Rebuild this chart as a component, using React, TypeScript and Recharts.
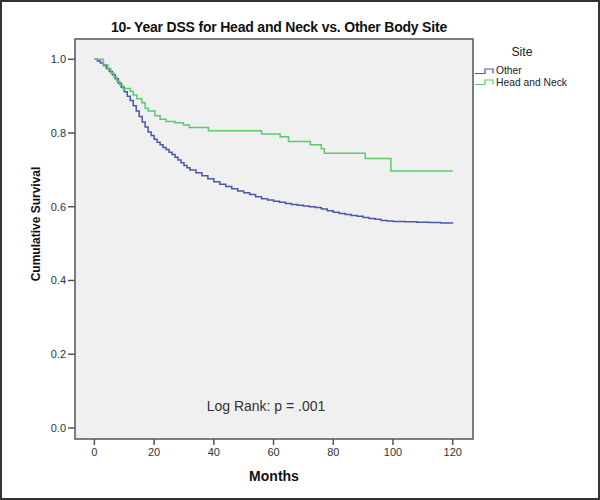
import { CSSProperties } from 'react'
import { Line, LineChart, ReferenceArea, XAxis, YAxis } from 'recharts'

const monthTicks = [0, 20, 40, 60, 80, 100, 120]
const survivalTicks = [0, 0.2, 0.4, 0.6, 0.8, 1.0]

// Site = Other
const otherMonths = [
  0, 1, 2, 3, 4, 5, 6, 7, 8, 9, 10, 11, 12, 13, 14, 15, 16, 17, 18, 19, 20, 21, 22, 23, 24, 25, 26,
  27, 28, 29, 30, 31, 32, 34, 36, 38, 40, 42, 44, 46, 48, 50, 52, 54, 56, 58, 60, 62, 64, 66, 68,
  70, 72, 74, 76, 78, 80, 82, 84, 86, 88, 90, 92, 94, 96, 98, 100, 104, 108, 112, 116, 120,
]
const otherSurvival = [
  1.0, 0.995, 0.99, 0.983, 0.975, 0.967, 0.958, 0.947, 0.935, 0.924, 0.912, 0.9, 0.888, 0.874, 0.86,
  0.845, 0.83, 0.816, 0.803, 0.793, 0.783, 0.775, 0.768, 0.761, 0.755, 0.748, 0.742, 0.734, 0.727,
  0.719, 0.712, 0.706, 0.7, 0.692, 0.684, 0.676, 0.668, 0.661, 0.655, 0.649, 0.643, 0.638, 0.633,
  0.627, 0.622, 0.618, 0.615, 0.612, 0.609, 0.606, 0.604, 0.602, 0.6, 0.598, 0.594, 0.589, 0.585,
  0.582, 0.579, 0.576, 0.574, 0.571, 0.568, 0.566, 0.563, 0.561, 0.56, 0.559, 0.558, 0.557, 0.556,
  0.555,
]

// Site = Head and Neck
const headNeckMonths = [
  0, 3, 4.5, 5.5, 6.5, 7.5, 8.5, 9.5, 12, 13, 14.2, 15.9, 17, 18, 20.3, 22, 24, 27, 29.8, 31.8,
  38.2, 56, 62.2, 65, 72.3, 76, 77, 90.7, 99.3, 120,
]
const headNeckSurvival = [
  1.0, 0.985, 0.975, 0.963, 0.952, 0.94, 0.93, 0.921, 0.913, 0.903, 0.893, 0.882, 0.867, 0.86,
  0.847, 0.837, 0.831, 0.828, 0.822, 0.815, 0.806, 0.797, 0.79, 0.777, 0.768, 0.757, 0.745, 0.731,
  0.697, 0.697,
]

const sites = [
  { name: 'Other', color: '#4b57a8' },
  { name: 'Head and Neck', color: '#5cc96c' },
]

const otherData = otherMonths.map((m, i) => ({ month: m, survival: otherSurvival[i] }))
const headNeckData = headNeckMonths.map((m, i) => ({ month: m, survival: headNeckSurvival[i] }))

const FONT = '"Liberation Sans", Arial, sans-serif'
const TICK_STYLE = { fontSize: 11, fill: '#333', fontFamily: FONT }

const abs = (s: CSSProperties): CSSProperties => ({ position: 'absolute', fontFamily: FONT, ...s })

function SiteLegend() {
  return (
    <div style={abs({ left: 475, top: 45, color: '#222', width: 120 })}>
      <div style={{ fontSize: 12.2, textAlign: 'center', width: 94, lineHeight: '14px' }}>Site</div>
      <div style={{ height: 6 }} />
      {sites.map((s) => (
        <div key={s.name} style={{ display: 'flex', alignItems: 'center', height: 11.6 }}>
          <svg width={21} height={8} style={{ display: 'block' }}>
            <path d="M0,6.5 H10 V2 H18 V6.5" fill="none" stroke={s.color} strokeWidth={1.2} />
          </svg>
          <span style={{ fontSize: 10.3, lineHeight: '11px' }}>{s.name}</span>
        </div>
      ))}
    </div>
  )
}

export default function App() {
  return (
    <div style={{ position: 'absolute', left: 0, top: 0, width: 600, height: 500, background: '#fff' }}>
      <LineChart width={600} height={500} margin={{ top: 39, right: 127, bottom: 11, left: 0 }}>
        <XAxis
          type="number"
          dataKey="month"
          domain={[-6.5, 126.8]}
          ticks={monthTicks}
          allowDataOverflow
          axisLine={false}
          tickLine={{ stroke: '#555', strokeWidth: 1.5 }}
          tickSize={6}
          tickMargin={3}
          height={50}
          tick={TICK_STYLE}
        />
        <YAxis
          type="number"
          dataKey="survival"
          domain={[-0.03, 1.055]}
          ticks={survivalTicks}
          allowDataOverflow
          axisLine={false}
          tickLine={{ stroke: '#555', strokeWidth: 1.5 }}
          tickSize={7}
          tickMargin={2}
          width={75}
          tick={TICK_STYLE}
          tickFormatter={(v: number) => v.toFixed(1)}
        />
        <ReferenceArea
          x1={-6.5}
          x2={126.8}
          y1={-0.03}
          y2={1.055}
          fill="#f0f0f0"
          fillOpacity={1}
          stroke="#555"
          strokeWidth={1.5}
        />
        <Line
          name="Other"
          data={otherData}
          dataKey="survival"
          type="stepAfter"
          stroke={sites[0].color}
          strokeWidth={1.5}
          dot={false}
          isAnimationActive={false}
        />
        <Line
          name="Head and Neck"
          data={headNeckData}
          dataKey="survival"
          type="stepAfter"
          stroke={sites[1].color}
          strokeWidth={1.5}
          dot={false}
          isAnimationActive={false}
        />
      </LineChart>

      <SiteLegend />
      <div
        style={abs({
          left: 0,
          width: 558,
          top: 19,
          textAlign: 'center',
          fontSize: 14,
          letterSpacing: -0.2,
          fontWeight: 'bold',
          color: '#111',
        })}
      >
        10- Year DSS for Head and Neck vs. Other Body Site
      </div>
      <div
        style={abs({
          left: 36,
          top: 224,
          transform: 'translate(-50%, -50%) rotate(-90deg)',
          whiteSpace: 'nowrap',
          fontSize: 12,
          fontWeight: 'bold',
          color: '#111',
        })}
      >
        Cumulative Survival
      </div>
      <div style={abs({ left: 74, width: 400, top: 468, textAlign: 'center', fontSize: 14, fontWeight: 'bold', color: '#111' })}>
        Months
      </div>
      <div style={abs({ left: 166, width: 200, top: 398, textAlign: 'center', fontSize: 14, color: '#333' })}>
        Log Rank: p = .001
      </div>
      <div style={{ position: 'absolute', inset: 0, border: '2px solid #333', pointerEvents: 'none' }} />
    </div>
  )
}
